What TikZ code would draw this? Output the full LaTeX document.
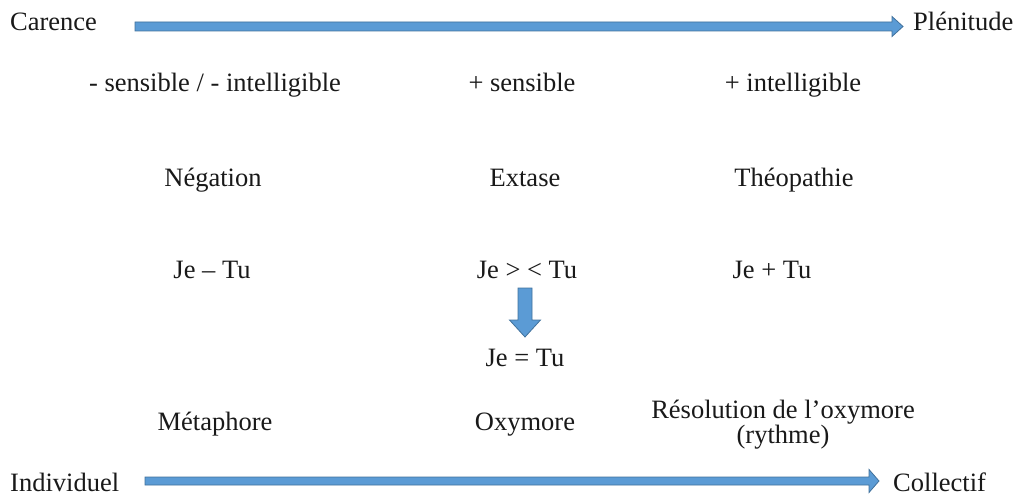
\documentclass[tikz,border=0pt]{standalone}
\usepackage{fontspec}
\setmainfont{Liberation Serif}
\usetikzlibrary{calc}
\definecolor{arrowfill}{RGB}{91,155,213}
\definecolor{arrowline}{RGB}{65,113,156}
\begin{document}
\begin{tikzpicture}[x=1pt,y=-1pt,
  lbl/.style={inner sep=0pt, anchor=base, font=\fontsize{26.5}{30}\selectfont, text=black!90},
  fat/.style={fill=arrowfill, draw=arrowline, line width=0.8pt, line join=miter}]
\useasboundingbox (0,0) rectangle (1018,495);

% end labels of the two scales
\node[lbl, anchor=base west] (car) at (10,31) {Carence};
\node[lbl, anchor=base west] (ple) at (913,31) {Plénitude};
\node[lbl, anchor=base west] (ind) at (10,491) {Individuel};
\node[lbl, anchor=base west] (col) at (893,491) {Collectif};

% columns
\node[lbl] (c1a) at (215,92) {- sensible / - intelligible};
\node[lbl] (c2a) at (522,92) {+ sensible};
\node[lbl] (c3a) at (793,92) {+ intelligible};

\node[lbl] (c1b) at (213,186) {Négation};
\node[lbl] (c2b) at (525,186) {Extase};
\node[lbl] (c3b) at (794,186) {Théopathie};

\node[lbl] (c1c) at (212,278) {Je – Tu};
\node[lbl] (c2c) at (527,278) {Je > < Tu};
\node[lbl] (c3c) at (772,278) {Je + Tu};

\node[lbl] (c2d) at (525,366) {Je = Tu};

\node[lbl] (c1e) at (215,430) {Métaphore};
\node[lbl] (c2e) at (525,430) {Oxymore};
\node[lbl] (c3e) at (783,418) {Résolution de l’oxymore};
\node[lbl] (c3f) at (783,443) {(rythme)};

% block arrows
\coordinate (t1s) at (135,26.5);
\coordinate (t1e) at (903,26.5);
\path[fat] ($(t1s)+(0,-4.5)$) -- ($(t1e)+(-11,-4.5)$) -- ($(t1e)+(-11,-10)$) -- (t1e)
  -- ($(t1e)+(-11,10)$) -- ($(t1e)+(-11,4.5)$) -- ($(t1s)+(0,4.5)$) -- cycle;

\coordinate (b1s) at (145,481);
\coordinate (b1e) at (879,481);
\path[fat] ($(b1s)+(0,-4)$) -- ($(b1e)+(-10,-4)$) -- ($(b1e)+(-10,-11.5)$) -- (b1e)
  -- ($(b1e)+(-10,11.5)$) -- ($(b1e)+(-10,4)$) -- ($(b1s)+(0,4)$) -- cycle;

\coordinate (ds) at (525,288);
\coordinate (de) at (525,337);
\path[fat] ($(ds)+(-7,0)$) -- ($(de)+(-7,-17)$) -- ($(de)+(-15.5,-17)$) -- (de)
  -- ($(de)+(15.5,-17)$) -- ($(de)+(7,-17)$) -- ($(ds)+(7,0)$) -- cycle;
\end{tikzpicture}
\end{document}
